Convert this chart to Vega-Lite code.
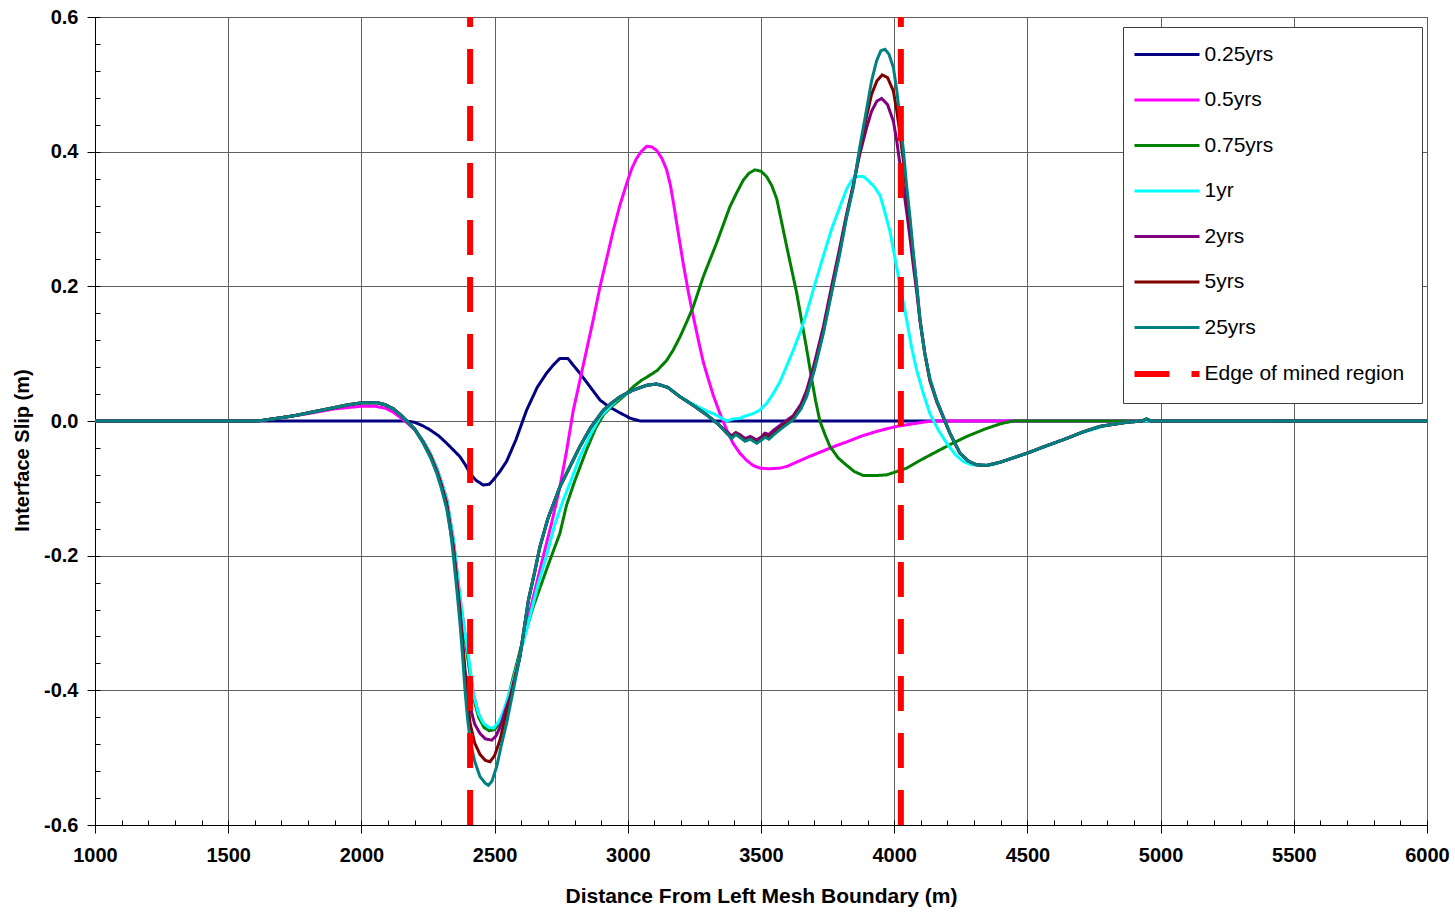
{
  "$schema": "https://vega.github.io/schema/vega-lite/v6.json",
  "width": 1332,
  "height": 808,
  "autosize": {"type": "none"},
  "padding": {"left": 95, "top": 17, "right": 28, "bottom": 88},
  "background": "white",
  "config": {
    "view": {"stroke": "#808080", "strokeWidth": 1},
    "font": "Liberation Sans",
    "legend": {
      "orient": "none", "legendX": 1028, "legendY": 10,
      "symbolType": "stroke", "symbolSize": 4225, "symbolStrokeWidth": 3,
      "labelFontSize": 21, "labelFont": "Liberation Sans", "labelColor": "#000",
      "strokeColor": "#404040", "fillColor": "#ffffff", "padding": 17,
      "rowPadding": 23.5, "labelOffset": 27, "symbolLimit": 0, "labelLimit": 400, "symbolOffset": 16.5
    }
  },
  "layer": [
    {
      "data": {"values": [
        {"s":"0.25yrs","x":1000,"y":0},{"s":"0.25yrs","x":2170,"y":0},{"s":"0.25yrs","x":2200,"y":-0.002},{"s":"0.25yrs","x":2230,"y":-0.007},{"s":"0.25yrs","x":2257,"y":-0.013},{"s":"0.25yrs","x":2290,"y":-0.022},{"s":"0.25yrs","x":2320,"y":-0.033},{"s":"0.25yrs","x":2350,"y":-0.045},{"s":"0.25yrs","x":2370,"y":-0.053},{"s":"0.25yrs","x":2390,"y":-0.065},{"s":"0.25yrs","x":2408,"y":-0.078},{"s":"0.25yrs","x":2430,"y":-0.088},{"s":"0.25yrs","x":2457,"y":-0.095},{"s":"0.25yrs","x":2480,"y":-0.094},{"s":"0.25yrs","x":2494,"y":-0.088},{"s":"0.25yrs","x":2520,"y":-0.075},{"s":"0.25yrs","x":2545,"y":-0.06},{"s":"0.25yrs","x":2580,"y":-0.028},{"s":"0.25yrs","x":2620,"y":0.016},{"s":"0.25yrs","x":2660,"y":0.05},{"s":"0.25yrs","x":2695,"y":0.071},{"s":"0.25yrs","x":2720,"y":0.083},{"s":"0.25yrs","x":2745,"y":0.093},{"s":"0.25yrs","x":2775,"y":0.093},{"s":"0.25yrs","x":2795,"y":0.083},{"s":"0.25yrs","x":2820,"y":0.071},{"s":"0.25yrs","x":2860,"y":0.05},{"s":"0.25yrs","x":2896,"y":0.031},{"s":"0.25yrs","x":2930,"y":0.021},{"s":"0.25yrs","x":2971,"y":0.012},{"s":"0.25yrs","x":3010,"y":0.004},{"s":"0.25yrs","x":3046,"y":0},{"s":"0.25yrs","x":6000,"y":0},

        {"s":"0.5yrs","x":1000,"y":0},{"s":"0.5yrs","x":1600,"y":0},{"s":"0.5yrs","x":1630,"y":0.001},{"s":"0.5yrs","x":1700,"y":0.005},{"s":"0.5yrs","x":1800,"y":0.011},{"s":"0.5yrs","x":1900,"y":0.018},{"s":"0.5yrs","x":2000,"y":0.022},{"s":"0.5yrs","x":2050,"y":0.022},{"s":"0.5yrs","x":2090,"y":0.019},{"s":"0.5yrs","x":2120,"y":0.013},{"s":"0.5yrs","x":2150,"y":0.004},{"s":"0.5yrs","x":2175,"y":-0.004},{"s":"0.5yrs","x":2200,"y":-0.013},{"s":"0.5yrs","x":2232,"y":-0.03},{"s":"0.5yrs","x":2260,"y":-0.05},{"s":"0.5yrs","x":2283,"y":-0.07},{"s":"0.5yrs","x":2300,"y":-0.09},{"s":"0.5yrs","x":2320,"y":-0.115},{"s":"0.5yrs","x":2345,"y":-0.175},{"s":"0.5yrs","x":2370,"y":-0.262},{"s":"0.5yrs","x":2385,"y":-0.305},{"s":"0.5yrs","x":2402,"y":-0.355},{"s":"0.5yrs","x":2420,"y":-0.405},{"s":"0.5yrs","x":2440,"y":-0.435},{"s":"0.5yrs","x":2460,"y":-0.452},{"s":"0.5yrs","x":2480,"y":-0.46},{"s":"0.5yrs","x":2500,"y":-0.458},{"s":"0.5yrs","x":2520,"y":-0.448},{"s":"0.5yrs","x":2545,"y":-0.42},{"s":"0.5yrs","x":2570,"y":-0.385},{"s":"0.5yrs","x":2600,"y":-0.335},{"s":"0.5yrs","x":2640,"y":-0.27},{"s":"0.5yrs","x":2680,"y":-0.205},{"s":"0.5yrs","x":2715,"y":-0.15},{"s":"0.5yrs","x":2745,"y":-0.098},{"s":"0.5yrs","x":2770,"y":-0.045},{"s":"0.5yrs","x":2795,"y":0.015},{"s":"0.5yrs","x":2820,"y":0.06},{"s":"0.5yrs","x":2845,"y":0.105},{"s":"0.5yrs","x":2870,"y":0.15},{"s":"0.5yrs","x":2896,"y":0.2},{"s":"0.5yrs","x":2920,"y":0.24},{"s":"0.5yrs","x":2946,"y":0.284},{"s":"0.5yrs","x":2970,"y":0.32},{"s":"0.5yrs","x":2996,"y":0.353},{"s":"0.5yrs","x":3015,"y":0.375},{"s":"0.5yrs","x":3033,"y":0.39},{"s":"0.5yrs","x":3050,"y":0.4},{"s":"0.5yrs","x":3071,"y":0.408},{"s":"0.5yrs","x":3090,"y":0.407},{"s":"0.5yrs","x":3108,"y":0.402},{"s":"0.5yrs","x":3128,"y":0.39},{"s":"0.5yrs","x":3146,"y":0.373},{"s":"0.5yrs","x":3160,"y":0.35},{"s":"0.5yrs","x":3171,"y":0.325},{"s":"0.5yrs","x":3190,"y":0.278},{"s":"0.5yrs","x":3208,"y":0.234},{"s":"0.5yrs","x":3228,"y":0.19},{"s":"0.5yrs","x":3246,"y":0.155},{"s":"0.5yrs","x":3265,"y":0.12},{"s":"0.5yrs","x":3283,"y":0.088},{"s":"0.5yrs","x":3300,"y":0.065},{"s":"0.5yrs","x":3321,"y":0.038},{"s":"0.5yrs","x":3345,"y":0.012},{"s":"0.5yrs","x":3371,"y":-0.013},{"s":"0.5yrs","x":3395,"y":-0.033},{"s":"0.5yrs","x":3421,"y":-0.048},{"s":"0.5yrs","x":3445,"y":-0.058},{"s":"0.5yrs","x":3470,"y":-0.066},{"s":"0.5yrs","x":3496,"y":-0.07},{"s":"0.5yrs","x":3530,"y":-0.071},{"s":"0.5yrs","x":3571,"y":-0.07},{"s":"0.5yrs","x":3600,"y":-0.067},{"s":"0.5yrs","x":3634,"y":-0.061},{"s":"0.5yrs","x":3680,"y":-0.053},{"s":"0.5yrs","x":3730,"y":-0.045},{"s":"0.5yrs","x":3780,"y":-0.037},{"s":"0.5yrs","x":3822,"y":-0.031},{"s":"0.5yrs","x":3880,"y":-0.022},{"s":"0.5yrs","x":3947,"y":-0.014},{"s":"0.5yrs","x":4010,"y":-0.008},{"s":"0.5yrs","x":4072,"y":-0.004},{"s":"0.5yrs","x":4122,"y":-0.001},{"s":"0.5yrs","x":4160,"y":0},{"s":"0.5yrs","x":6000,"y":0},

        {"s":"0.75yrs","x":1000,"y":0},{"s":"0.75yrs","x":1600,"y":0},{"s":"0.75yrs","x":1630,"y":0.001},{"s":"0.75yrs","x":1700,"y":0.005},{"s":"0.75yrs","x":1750,"y":0.008},{"s":"0.75yrs","x":1800,"y":0.012},{"s":"0.75yrs","x":1850,"y":0.016},{"s":"0.75yrs","x":1900,"y":0.02},{"s":"0.75yrs","x":1950,"y":0.024},{"s":"0.75yrs","x":2000,"y":0.027},{"s":"0.75yrs","x":2060,"y":0.027},{"s":"0.75yrs","x":2090,"y":0.024},{"s":"0.75yrs","x":2120,"y":0.018},{"s":"0.75yrs","x":2150,"y":0.008},{"s":"0.75yrs","x":2175,"y":-0.002},{"s":"0.75yrs","x":2200,"y":-0.012},{"s":"0.75yrs","x":2232,"y":-0.03},{"s":"0.75yrs","x":2260,"y":-0.05},{"s":"0.75yrs","x":2283,"y":-0.072},{"s":"0.75yrs","x":2300,"y":-0.092},{"s":"0.75yrs","x":2320,"y":-0.118},{"s":"0.75yrs","x":2345,"y":-0.18},{"s":"0.75yrs","x":2370,"y":-0.268},{"s":"0.75yrs","x":2385,"y":-0.31},{"s":"0.75yrs","x":2402,"y":-0.36},{"s":"0.75yrs","x":2420,"y":-0.41},{"s":"0.75yrs","x":2440,"y":-0.44},{"s":"0.75yrs","x":2460,"y":-0.455},{"s":"0.75yrs","x":2480,"y":-0.46},{"s":"0.75yrs","x":2500,"y":-0.458},{"s":"0.75yrs","x":2520,"y":-0.448},{"s":"0.75yrs","x":2545,"y":-0.42},{"s":"0.75yrs","x":2570,"y":-0.38},{"s":"0.75yrs","x":2600,"y":-0.335},{"s":"0.75yrs","x":2645,"y":-0.276},{"s":"0.75yrs","x":2700,"y":-0.215},{"s":"0.75yrs","x":2745,"y":-0.167},{"s":"0.75yrs","x":2770,"y":-0.125},{"s":"0.75yrs","x":2800,"y":-0.09},{"s":"0.75yrs","x":2845,"y":-0.043},{"s":"0.75yrs","x":2880,"y":-0.01},{"s":"0.75yrs","x":2910,"y":0.01},{"s":"0.75yrs","x":2940,"y":0.022},{"s":"0.75yrs","x":2980,"y":0.035},{"s":"0.75yrs","x":3021,"y":0.051},{"s":"0.75yrs","x":3050,"y":0.06},{"s":"0.75yrs","x":3083,"y":0.068},{"s":"0.75yrs","x":3110,"y":0.075},{"s":"0.75yrs","x":3146,"y":0.09},{"s":"0.75yrs","x":3170,"y":0.105},{"s":"0.75yrs","x":3196,"y":0.125},{"s":"0.75yrs","x":3220,"y":0.146},{"s":"0.75yrs","x":3246,"y":0.17},{"s":"0.75yrs","x":3283,"y":0.214},{"s":"0.75yrs","x":3333,"y":0.264},{"s":"0.75yrs","x":3383,"y":0.318},{"s":"0.75yrs","x":3410,"y":0.34},{"s":"0.75yrs","x":3434,"y":0.358},{"s":"0.75yrs","x":3455,"y":0.368},{"s":"0.75yrs","x":3477,"y":0.373},{"s":"0.75yrs","x":3500,"y":0.371},{"s":"0.75yrs","x":3521,"y":0.363},{"s":"0.75yrs","x":3540,"y":0.35},{"s":"0.75yrs","x":3559,"y":0.33},{"s":"0.75yrs","x":3575,"y":0.3},{"s":"0.75yrs","x":3596,"y":0.26},{"s":"0.75yrs","x":3615,"y":0.225},{"s":"0.75yrs","x":3634,"y":0.19},{"s":"0.75yrs","x":3652,"y":0.15},{"s":"0.75yrs","x":3671,"y":0.108},{"s":"0.75yrs","x":3690,"y":0.063},{"s":"0.75yrs","x":3705,"y":0.03},{"s":"0.75yrs","x":3721,"y":0},{"s":"0.75yrs","x":3740,"y":-0.02},{"s":"0.75yrs","x":3759,"y":-0.038},{"s":"0.75yrs","x":3790,"y":-0.055},{"s":"0.75yrs","x":3822,"y":-0.066},{"s":"0.75yrs","x":3850,"y":-0.075},{"s":"0.75yrs","x":3884,"y":-0.081},{"s":"0.75yrs","x":3930,"y":-0.081},{"s":"0.75yrs","x":3972,"y":-0.08},{"s":"0.75yrs","x":4010,"y":-0.075},{"s":"0.75yrs","x":4047,"y":-0.07},{"s":"0.75yrs","x":4090,"y":-0.06},{"s":"0.75yrs","x":4147,"y":-0.048},{"s":"0.75yrs","x":4210,"y":-0.035},{"s":"0.75yrs","x":4272,"y":-0.023},{"s":"0.75yrs","x":4340,"y":-0.012},{"s":"0.75yrs","x":4400,"y":-0.004},{"s":"0.75yrs","x":4447,"y":0},{"s":"0.75yrs","x":6000,"y":0},

        {"s":"1yr","x":1000,"y":0},{"s":"1yr","x":1600,"y":0},{"s":"1yr","x":1630,"y":0.001},{"s":"1yr","x":1700,"y":0.005},{"s":"1yr","x":1750,"y":0.008},{"s":"1yr","x":1800,"y":0.012},{"s":"1yr","x":1850,"y":0.016},{"s":"1yr","x":1900,"y":0.02},{"s":"1yr","x":1950,"y":0.024},{"s":"1yr","x":2000,"y":0.027},{"s":"1yr","x":2060,"y":0.027},{"s":"1yr","x":2090,"y":0.024},{"s":"1yr","x":2120,"y":0.018},{"s":"1yr","x":2150,"y":0.008},{"s":"1yr","x":2175,"y":-0.002},{"s":"1yr","x":2200,"y":-0.012},{"s":"1yr","x":2232,"y":-0.03},{"s":"1yr","x":2260,"y":-0.05},{"s":"1yr","x":2283,"y":-0.07},{"s":"1yr","x":2300,"y":-0.09},{"s":"1yr","x":2320,"y":-0.115},{"s":"1yr","x":2345,"y":-0.175},{"s":"1yr","x":2370,"y":-0.26},{"s":"1yr","x":2383,"y":-0.3},{"s":"1yr","x":2402,"y":-0.35},{"s":"1yr","x":2420,"y":-0.405},{"s":"1yr","x":2440,"y":-0.435},{"s":"1yr","x":2458,"y":-0.449},{"s":"1yr","x":2478,"y":-0.455},{"s":"1yr","x":2496,"y":-0.456},{"s":"1yr","x":2515,"y":-0.447},{"s":"1yr","x":2533,"y":-0.432},{"s":"1yr","x":2550,"y":-0.41},{"s":"1yr","x":2570,"y":-0.385},{"s":"1yr","x":2600,"y":-0.34},{"s":"1yr","x":2633,"y":-0.29},{"s":"1yr","x":2665,"y":-0.24},{"s":"1yr","x":2695,"y":-0.2},{"s":"1yr","x":2725,"y":-0.155},{"s":"1yr","x":2758,"y":-0.117},{"s":"1yr","x":2790,"y":-0.085},{"s":"1yr","x":2820,"y":-0.053},{"s":"1yr","x":2860,"y":-0.02},{"s":"1yr","x":2896,"y":0.006},{"s":"1yr","x":2940,"y":0.024},{"s":"1yr","x":2971,"y":0.035},{"s":"1yr","x":3020,"y":0.046},{"s":"1yr","x":3071,"y":0.053},{"s":"1yr","x":3108,"y":0.055},{"s":"1yr","x":3150,"y":0.05},{"s":"1yr","x":3196,"y":0.036},{"s":"1yr","x":3250,"y":0.024},{"s":"1yr","x":3300,"y":0.014},{"s":"1yr","x":3321,"y":0.011},{"s":"1yr","x":3350,"y":0.005},{"s":"1yr","x":3371,"y":0},{"s":"1yr","x":3395,"y":0.003},{"s":"1yr","x":3421,"y":0.004},{"s":"1yr","x":3445,"y":0.008},{"s":"1yr","x":3471,"y":0.011},{"s":"1yr","x":3495,"y":0.016},{"s":"1yr","x":3521,"y":0.026},{"s":"1yr","x":3545,"y":0.04},{"s":"1yr","x":3571,"y":0.058},{"s":"1yr","x":3600,"y":0.085},{"s":"1yr","x":3621,"y":0.105},{"s":"1yr","x":3650,"y":0.135},{"s":"1yr","x":3671,"y":0.16},{"s":"1yr","x":3700,"y":0.2},{"s":"1yr","x":3734,"y":0.245},{"s":"1yr","x":3765,"y":0.285},{"s":"1yr","x":3796,"y":0.318},{"s":"1yr","x":3822,"y":0.345},{"s":"1yr","x":3845,"y":0.36},{"s":"1yr","x":3859,"y":0.363},{"s":"1yr","x":3885,"y":0.363},{"s":"1yr","x":3900,"y":0.358},{"s":"1yr","x":3925,"y":0.348},{"s":"1yr","x":3947,"y":0.335},{"s":"1yr","x":3965,"y":0.31},{"s":"1yr","x":3984,"y":0.282},{"s":"1yr","x":4009,"y":0.229},{"s":"1yr","x":4030,"y":0.185},{"s":"1yr","x":4047,"y":0.15},{"s":"1yr","x":4065,"y":0.11},{"s":"1yr","x":4084,"y":0.076},{"s":"1yr","x":4110,"y":0.04},{"s":"1yr","x":4134,"y":0.011},{"s":"1yr","x":4165,"y":-0.013},{"s":"1yr","x":4197,"y":-0.033},{"s":"1yr","x":4230,"y":-0.05},{"s":"1yr","x":4259,"y":-0.06},{"s":"1yr","x":4290,"y":-0.065},{"s":"1yr","x":4322,"y":-0.066},{"s":"1yr","x":4370,"y":-0.065},{"s":"1yr","x":4420,"y":-0.058},{"s":"1yr","x":4500,"y":-0.048},{"s":"1yr","x":4600,"y":-0.033},{"s":"1yr","x":4700,"y":-0.018},{"s":"1yr","x":4800,"y":-0.006},{"s":"1yr","x":4870,"y":-0.002},{"s":"1yr","x":4930,"y":0},{"s":"1yr","x":6000,"y":0},

        {"s":"2yrs","x":1000,"y":0},{"s":"2yrs","x":1600,"y":0},{"s":"2yrs","x":1630,"y":0.001},{"s":"2yrs","x":1700,"y":0.005},{"s":"2yrs","x":1750,"y":0.008},{"s":"2yrs","x":1800,"y":0.012},{"s":"2yrs","x":1850,"y":0.016},{"s":"2yrs","x":1900,"y":0.02},{"s":"2yrs","x":1950,"y":0.024},{"s":"2yrs","x":2000,"y":0.027},{"s":"2yrs","x":2060,"y":0.027},{"s":"2yrs","x":2090,"y":0.024},{"s":"2yrs","x":2120,"y":0.018},{"s":"2yrs","x":2150,"y":0.008},{"s":"2yrs","x":2175,"y":-0.002},{"s":"2yrs","x":2200,"y":-0.012},{"s":"2yrs","x":2232,"y":-0.032},{"s":"2yrs","x":2260,"y":-0.052},{"s":"2yrs","x":2283,"y":-0.074},{"s":"2yrs","x":2300,"y":-0.094},{"s":"2yrs","x":2320,"y":-0.122},{"s":"2yrs","x":2345,"y":-0.185},{"s":"2yrs","x":2370,"y":-0.28},{"s":"2yrs","x":2389,"y":-0.37},{"s":"2yrs","x":2408,"y":-0.424},{"s":"2yrs","x":2425,"y":-0.45},{"s":"2yrs","x":2445,"y":-0.464},{"s":"2yrs","x":2465,"y":-0.472},{"s":"2yrs","x":2489,"y":-0.474},{"s":"2yrs","x":2505,"y":-0.468},{"s":"2yrs","x":2520,"y":-0.455},{"s":"2yrs","x":2540,"y":-0.43},{"s":"2yrs","x":2558,"y":-0.41},{"s":"2yrs","x":2595,"y":-0.35},{"s":"2yrs","x":2627,"y":-0.266},{"s":"2yrs","x":2650,"y":-0.225},{"s":"2yrs","x":2670,"y":-0.187},{"s":"2yrs","x":2700,"y":-0.145},{"s":"2yrs","x":2745,"y":-0.098},{"s":"2yrs","x":2780,"y":-0.07},{"s":"2yrs","x":2820,"y":-0.038},{"s":"2yrs","x":2860,"y":-0.01},{"s":"2yrs","x":2908,"y":0.016},{"s":"2yrs","x":2940,"y":0.027},{"s":"2yrs","x":2971,"y":0.036},{"s":"2yrs","x":3020,"y":0.046},{"s":"2yrs","x":3071,"y":0.053},{"s":"2yrs","x":3108,"y":0.055},{"s":"2yrs","x":3150,"y":0.05},{"s":"2yrs","x":3196,"y":0.036},{"s":"2yrs","x":3250,"y":0.022},{"s":"2yrs","x":3300,"y":0.008},{"s":"2yrs","x":3340,"y":-0.005},{"s":"2yrs","x":3371,"y":-0.016},{"s":"2yrs","x":3390,"y":-0.022},{"s":"2yrs","x":3405,"y":-0.017},{"s":"2yrs","x":3420,"y":-0.02},{"s":"2yrs","x":3440,"y":-0.026},{"s":"2yrs","x":3460,"y":-0.023},{"s":"2yrs","x":3484,"y":-0.028},{"s":"2yrs","x":3500,"y":-0.024},{"s":"2yrs","x":3515,"y":-0.018},{"s":"2yrs","x":3530,"y":-0.02},{"s":"2yrs","x":3546,"y":-0.014},{"s":"2yrs","x":3580,"y":-0.004},{"s":"2yrs","x":3621,"y":0.008},{"s":"2yrs","x":3650,"y":0.025},{"s":"2yrs","x":3671,"y":0.045},{"s":"2yrs","x":3700,"y":0.085},{"s":"2yrs","x":3734,"y":0.14},{"s":"2yrs","x":3765,"y":0.2},{"s":"2yrs","x":3796,"y":0.258},{"s":"2yrs","x":3820,"y":0.305},{"s":"2yrs","x":3847,"y":0.352},{"s":"2yrs","x":3870,"y":0.395},{"s":"2yrs","x":3896,"y":0.435},{"s":"2yrs","x":3915,"y":0.46},{"s":"2yrs","x":3935,"y":0.475},{"s":"2yrs","x":3953,"y":0.479},{"s":"2yrs","x":3975,"y":0.47},{"s":"2yrs","x":3997,"y":0.445},{"s":"2yrs","x":4010,"y":0.415},{"s":"2yrs","x":4022,"y":0.38},{"s":"2yrs","x":4035,"y":0.345},{"s":"2yrs","x":4047,"y":0.31},{"s":"2yrs","x":4060,"y":0.27},{"s":"2yrs","x":4072,"y":0.23},{"s":"2yrs","x":4085,"y":0.19},{"s":"2yrs","x":4097,"y":0.148},{"s":"2yrs","x":4115,"y":0.1},{"s":"2yrs","x":4134,"y":0.06},{"s":"2yrs","x":4160,"y":0.028},{"s":"2yrs","x":4209,"y":-0.018},{"s":"2yrs","x":4247,"y":-0.048},{"s":"2yrs","x":4280,"y":-0.06},{"s":"2yrs","x":4309,"y":-0.065},{"s":"2yrs","x":4347,"y":-0.066},{"s":"2yrs","x":4400,"y":-0.061},{"s":"2yrs","x":4497,"y":-0.048},{"s":"2yrs","x":4570,"y":-0.037},{"s":"2yrs","x":4647,"y":-0.026},{"s":"2yrs","x":4710,"y":-0.016},{"s":"2yrs","x":4772,"y":-0.008},{"s":"2yrs","x":4872,"y":-0.002},{"s":"2yrs","x":4930,"y":0},{"s":"2yrs","x":4947,"y":0.003},{"s":"2yrs","x":4965,"y":0},{"s":"2yrs","x":6000,"y":0},

        {"s":"5yrs","x":1000,"y":0},{"s":"5yrs","x":1600,"y":0},{"s":"5yrs","x":1630,"y":0.001},{"s":"5yrs","x":1700,"y":0.005},{"s":"5yrs","x":1750,"y":0.008},{"s":"5yrs","x":1800,"y":0.012},{"s":"5yrs","x":1850,"y":0.016},{"s":"5yrs","x":1900,"y":0.02},{"s":"5yrs","x":1950,"y":0.024},{"s":"5yrs","x":2000,"y":0.027},{"s":"5yrs","x":2060,"y":0.027},{"s":"5yrs","x":2090,"y":0.024},{"s":"5yrs","x":2120,"y":0.018},{"s":"5yrs","x":2150,"y":0.008},{"s":"5yrs","x":2175,"y":-0.002},{"s":"5yrs","x":2200,"y":-0.012},{"s":"5yrs","x":2232,"y":-0.032},{"s":"5yrs","x":2260,"y":-0.053},{"s":"5yrs","x":2283,"y":-0.075},{"s":"5yrs","x":2300,"y":-0.096},{"s":"5yrs","x":2320,"y":-0.125},{"s":"5yrs","x":2345,"y":-0.19},{"s":"5yrs","x":2370,"y":-0.285},{"s":"5yrs","x":2389,"y":-0.38},{"s":"5yrs","x":2408,"y":-0.449},{"s":"5yrs","x":2425,"y":-0.478},{"s":"5yrs","x":2445,"y":-0.495},{"s":"5yrs","x":2465,"y":-0.504},{"s":"5yrs","x":2483,"y":-0.506},{"s":"5yrs","x":2500,"y":-0.497},{"s":"5yrs","x":2520,"y":-0.474},{"s":"5yrs","x":2540,"y":-0.44},{"s":"5yrs","x":2558,"y":-0.415},{"s":"5yrs","x":2595,"y":-0.35},{"s":"5yrs","x":2627,"y":-0.266},{"s":"5yrs","x":2650,"y":-0.225},{"s":"5yrs","x":2670,"y":-0.187},{"s":"5yrs","x":2700,"y":-0.145},{"s":"5yrs","x":2745,"y":-0.098},{"s":"5yrs","x":2780,"y":-0.07},{"s":"5yrs","x":2820,"y":-0.038},{"s":"5yrs","x":2860,"y":-0.01},{"s":"5yrs","x":2908,"y":0.016},{"s":"5yrs","x":2940,"y":0.027},{"s":"5yrs","x":2971,"y":0.036},{"s":"5yrs","x":3020,"y":0.046},{"s":"5yrs","x":3071,"y":0.053},{"s":"5yrs","x":3108,"y":0.055},{"s":"5yrs","x":3150,"y":0.05},{"s":"5yrs","x":3196,"y":0.036},{"s":"5yrs","x":3250,"y":0.022},{"s":"5yrs","x":3300,"y":0.008},{"s":"5yrs","x":3340,"y":-0.005},{"s":"5yrs","x":3371,"y":-0.018},{"s":"5yrs","x":3390,"y":-0.025},{"s":"5yrs","x":3405,"y":-0.019},{"s":"5yrs","x":3420,"y":-0.023},{"s":"5yrs","x":3440,"y":-0.029},{"s":"5yrs","x":3460,"y":-0.026},{"s":"5yrs","x":3484,"y":-0.032},{"s":"5yrs","x":3500,"y":-0.028},{"s":"5yrs","x":3515,"y":-0.022},{"s":"5yrs","x":3530,"y":-0.025},{"s":"5yrs","x":3546,"y":-0.019},{"s":"5yrs","x":3580,"y":-0.008},{"s":"5yrs","x":3621,"y":0.004},{"s":"5yrs","x":3650,"y":0.02},{"s":"5yrs","x":3671,"y":0.038},{"s":"5yrs","x":3700,"y":0.078},{"s":"5yrs","x":3734,"y":0.133},{"s":"5yrs","x":3765,"y":0.193},{"s":"5yrs","x":3796,"y":0.252},{"s":"5yrs","x":3820,"y":0.302},{"s":"5yrs","x":3847,"y":0.35},{"s":"5yrs","x":3870,"y":0.4},{"s":"5yrs","x":3896,"y":0.452},{"s":"5yrs","x":3915,"y":0.485},{"s":"5yrs","x":3935,"y":0.505},{"s":"5yrs","x":3955,"y":0.514},{"s":"5yrs","x":3975,"y":0.51},{"s":"5yrs","x":3997,"y":0.49},{"s":"5yrs","x":4010,"y":0.46},{"s":"5yrs","x":4022,"y":0.425},{"s":"5yrs","x":4035,"y":0.385},{"s":"5yrs","x":4047,"y":0.338},{"s":"5yrs","x":4060,"y":0.29},{"s":"5yrs","x":4072,"y":0.245},{"s":"5yrs","x":4085,"y":0.198},{"s":"5yrs","x":4097,"y":0.15},{"s":"5yrs","x":4115,"y":0.1},{"s":"5yrs","x":4134,"y":0.061},{"s":"5yrs","x":4160,"y":0.03},{"s":"5yrs","x":4209,"y":-0.018},{"s":"5yrs","x":4247,"y":-0.048},{"s":"5yrs","x":4280,"y":-0.06},{"s":"5yrs","x":4309,"y":-0.065},{"s":"5yrs","x":4347,"y":-0.066},{"s":"5yrs","x":4400,"y":-0.061},{"s":"5yrs","x":4497,"y":-0.048},{"s":"5yrs","x":4570,"y":-0.037},{"s":"5yrs","x":4647,"y":-0.026},{"s":"5yrs","x":4710,"y":-0.016},{"s":"5yrs","x":4772,"y":-0.008},{"s":"5yrs","x":4872,"y":-0.002},{"s":"5yrs","x":4930,"y":0},{"s":"5yrs","x":4947,"y":0.003},{"s":"5yrs","x":4965,"y":0},{"s":"5yrs","x":6000,"y":0},

        {"s":"25yrs","x":1000,"y":0},{"s":"25yrs","x":1600,"y":0},{"s":"25yrs","x":1630,"y":0.001},{"s":"25yrs","x":1700,"y":0.005},{"s":"25yrs","x":1750,"y":0.008},{"s":"25yrs","x":1800,"y":0.012},{"s":"25yrs","x":1850,"y":0.016},{"s":"25yrs","x":1900,"y":0.02},{"s":"25yrs","x":1950,"y":0.024},{"s":"25yrs","x":2000,"y":0.027},{"s":"25yrs","x":2060,"y":0.027},{"s":"25yrs","x":2090,"y":0.024},{"s":"25yrs","x":2120,"y":0.018},{"s":"25yrs","x":2150,"y":0.008},{"s":"25yrs","x":2175,"y":-0.002},{"s":"25yrs","x":2200,"y":-0.012},{"s":"25yrs","x":2232,"y":-0.033},{"s":"25yrs","x":2260,"y":-0.055},{"s":"25yrs","x":2283,"y":-0.078},{"s":"25yrs","x":2300,"y":-0.1},{"s":"25yrs","x":2320,"y":-0.13},{"s":"25yrs","x":2335,"y":-0.165},{"s":"25yrs","x":2345,"y":-0.2},{"s":"25yrs","x":2358,"y":-0.25},{"s":"25yrs","x":2370,"y":-0.3},{"s":"25yrs","x":2380,"y":-0.35},{"s":"25yrs","x":2389,"y":-0.4},{"s":"25yrs","x":2398,"y":-0.44},{"s":"25yrs","x":2408,"y":-0.474},{"s":"25yrs","x":2425,"y":-0.505},{"s":"25yrs","x":2445,"y":-0.528},{"s":"25yrs","x":2465,"y":-0.538},{"s":"25yrs","x":2477,"y":-0.541},{"s":"25yrs","x":2490,"y":-0.535},{"s":"25yrs","x":2508,"y":-0.513},{"s":"25yrs","x":2525,"y":-0.482},{"s":"25yrs","x":2545,"y":-0.449},{"s":"25yrs","x":2570,"y":-0.4},{"s":"25yrs","x":2595,"y":-0.35},{"s":"25yrs","x":2627,"y":-0.266},{"s":"25yrs","x":2650,"y":-0.225},{"s":"25yrs","x":2670,"y":-0.187},{"s":"25yrs","x":2700,"y":-0.145},{"s":"25yrs","x":2745,"y":-0.098},{"s":"25yrs","x":2780,"y":-0.07},{"s":"25yrs","x":2820,"y":-0.038},{"s":"25yrs","x":2860,"y":-0.01},{"s":"25yrs","x":2908,"y":0.016},{"s":"25yrs","x":2940,"y":0.027},{"s":"25yrs","x":2971,"y":0.036},{"s":"25yrs","x":3020,"y":0.046},{"s":"25yrs","x":3071,"y":0.053},{"s":"25yrs","x":3108,"y":0.055},{"s":"25yrs","x":3150,"y":0.05},{"s":"25yrs","x":3196,"y":0.036},{"s":"25yrs","x":3250,"y":0.022},{"s":"25yrs","x":3300,"y":0.008},{"s":"25yrs","x":3340,"y":-0.005},{"s":"25yrs","x":3371,"y":-0.018},{"s":"25yrs","x":3390,"y":-0.026},{"s":"25yrs","x":3405,"y":-0.02},{"s":"25yrs","x":3420,"y":-0.024},{"s":"25yrs","x":3440,"y":-0.03},{"s":"25yrs","x":3460,"y":-0.027},{"s":"25yrs","x":3484,"y":-0.033},{"s":"25yrs","x":3500,"y":-0.029},{"s":"25yrs","x":3515,"y":-0.024},{"s":"25yrs","x":3530,"y":-0.027},{"s":"25yrs","x":3546,"y":-0.021},{"s":"25yrs","x":3580,"y":-0.01},{"s":"25yrs","x":3621,"y":0.002},{"s":"25yrs","x":3650,"y":0.018},{"s":"25yrs","x":3671,"y":0.036},{"s":"25yrs","x":3700,"y":0.075},{"s":"25yrs","x":3734,"y":0.13},{"s":"25yrs","x":3765,"y":0.19},{"s":"25yrs","x":3796,"y":0.249},{"s":"25yrs","x":3820,"y":0.3},{"s":"25yrs","x":3847,"y":0.348},{"s":"25yrs","x":3870,"y":0.405},{"s":"25yrs","x":3896,"y":0.462},{"s":"25yrs","x":3915,"y":0.505},{"s":"25yrs","x":3934,"y":0.535},{"s":"25yrs","x":3950,"y":0.55},{"s":"25yrs","x":3965,"y":0.552},{"s":"25yrs","x":3980,"y":0.545},{"s":"25yrs","x":3997,"y":0.525},{"s":"25yrs","x":4010,"y":0.49},{"s":"25yrs","x":4022,"y":0.447},{"s":"25yrs","x":4035,"y":0.4},{"s":"25yrs","x":4047,"y":0.348},{"s":"25yrs","x":4060,"y":0.3},{"s":"25yrs","x":4072,"y":0.249},{"s":"25yrs","x":4085,"y":0.2},{"s":"25yrs","x":4097,"y":0.15},{"s":"25yrs","x":4115,"y":0.1},{"s":"25yrs","x":4134,"y":0.063},{"s":"25yrs","x":4159,"y":0.031},{"s":"25yrs","x":4209,"y":-0.018},{"s":"25yrs","x":4247,"y":-0.048},{"s":"25yrs","x":4280,"y":-0.06},{"s":"25yrs","x":4309,"y":-0.065},{"s":"25yrs","x":4347,"y":-0.066},{"s":"25yrs","x":4400,"y":-0.061},{"s":"25yrs","x":4497,"y":-0.048},{"s":"25yrs","x":4570,"y":-0.037},{"s":"25yrs","x":4647,"y":-0.026},{"s":"25yrs","x":4710,"y":-0.016},{"s":"25yrs","x":4772,"y":-0.008},{"s":"25yrs","x":4872,"y":-0.002},{"s":"25yrs","x":4930,"y":0},{"s":"25yrs","x":4947,"y":0.003},{"s":"25yrs","x":4965,"y":0},{"s":"25yrs","x":6000,"y":0}
      ]},
      "mark": {"type": "line", "strokeWidth": 3},
      "encoding": {
        "x": {"field": "x", "type": "quantitative", "scale": {"domain": [1000, 6000], "nice": false, "zero": false},
          "axis": {"orient": "bottom", "values": [1000,1500,2000,2500,3000,3500,4000,4500,5000,5500,6000], "format": "d", "labelFlush": false,
            "grid": true, "gridColor": "#606060", "gridWidth": 1, "domainColor": "#000", "tickColor": "#000", "tickSize": 8,
            "labelFont": "Liberation Sans", "labelFontSize": 20, "labelFontWeight": "bold", "labelColor": "#000", "labelPadding": 12,
            "title": "Distance From Left Mesh Boundary (m)", "titleFont": "Liberation Sans", "titleFontSize": 21, "titleFontWeight": "bold", "titleColor": "#000",
            "titleX": 666, "titleY": 71, "titleBaseline": "middle", "titleAlign": "center"}},
        "y": {"field": "y", "type": "quantitative", "scale": {"domain": [-0.6, 0.6], "nice": false, "zero": false},
          "axis": {"orient": "left", "values": [-0.6,-0.4,-0.2,0,0.2,0.4,0.6], "labelFlush": false,
            "labelExpr": "datum.value < -0.001 ? '-' + format(-datum.value, '.1f') : format(abs(datum.value), '.1f')",
            "grid": true, "gridColor": "#606060", "gridWidth": 1, "domainColor": "#000", "tickColor": "#000", "tickSize": 8,
            "labelFont": "Liberation Sans", "labelFontSize": 20, "labelFontWeight": "bold", "labelColor": "#000", "labelPadding": 9,
            "title": "Interface Slip (m)", "titleFont": "Liberation Sans", "titleFontSize": 20, "titleFontWeight": "bold", "titleColor": "#000",
            "titleX": -73, "titleY": 433, "titleAngle": 270, "titleBaseline": "middle", "titleAlign": "center"}},
        "color": {"field": "s", "type": "nominal", "title": null,
          "scale": {"domain": ["0.25yrs","0.5yrs","0.75yrs","1yr","2yrs","5yrs","25yrs","Edge of mined region"],
                    "range": ["#000080","#FF00FF","#008000","#00FFFF","#800080","#800000","#008080","#FF0000"]},
          "legend": {"encode": {"symbols": {"update": {"strokeWidth": {"signal": "datum.value === 'Edge of mined region' ? 6 : 3"}}}}}},
        "strokeDash": {"field": "s", "type": "nominal", "title": null,
          "scale": {"domain": ["0.25yrs","0.5yrs","0.75yrs","1yr","2yrs","5yrs","25yrs","Edge of mined region"],
                    "range": [[1,0],[1,0],[1,0],[1,0],[1,0],[1,0],[1,0],[35,22]]}}
      }
    },
    {
      "data": {"values": [
        {"s":"Edge of mined region","e":"a","x":2408,"y":-0.6},{"s":"Edge of mined region","e":"a","x":2408,"y":0.6},
        {"s":"Edge of mined region","e":"b","x":4025,"y":-0.6},{"s":"Edge of mined region","e":"b","x":4025,"y":0.6}
      ]},
      "mark": {"type": "line", "strokeWidth": 6},
      "encoding": {
        "x": {"field": "x", "type": "quantitative", "axis": null},
        "y": {"field": "y", "type": "quantitative", "axis": null},
        "color": {"field": "s", "type": "nominal", "title": null},
        "strokeDash": {"field": "s", "type": "nominal", "title": null},
        "detail": {"field": "e", "type": "nominal"},
        "order": {"field": "y", "type": "quantitative"}
      }
    },
    {
      "data": {"values": [{"x": 1000, "y": 0}]},
      "mark": {"type": "point", "opacity": 0},
      "encoding": {
        "x": {"field": "x", "type": "quantitative",
          "axis": {"orient": "bottom", "values": [1000,1100,1200,1300,1400,1500,1600,1700,1800,1900,2000,2100,2200,2300,2400,2500,2600,2700,2800,2900,3000,3100,3200,3300,3400,3500,3600,3700,3800,3900,4000,4100,4200,4300,4400,4500,4600,4700,4800,4900,5000,5100,5200,5300,5400,5500,5600,5700,5800,5900,6000],
            "tickSize": -5, "tickColor": "#000", "labels": false, "domain": false, "grid": false, "title": null}},
        "y": {"field": "y", "type": "quantitative",
          "axis": {"orient": "left", "values": [-0.6,-0.56,-0.52,-0.48,-0.44,-0.4,-0.36,-0.32,-0.28,-0.24,-0.2,-0.16,-0.12,-0.08,-0.04,0,0.04,0.08,0.12,0.16,0.2,0.24,0.28,0.32,0.36,0.4,0.44,0.48,0.52,0.56,0.6],
            "tickSize": -5, "tickColor": "#000", "labels": false, "domain": false, "grid": false, "title": null}}
      }
    }
  ],
  "resolve": {"axis": {"x": "independent", "y": "independent"}}
}
